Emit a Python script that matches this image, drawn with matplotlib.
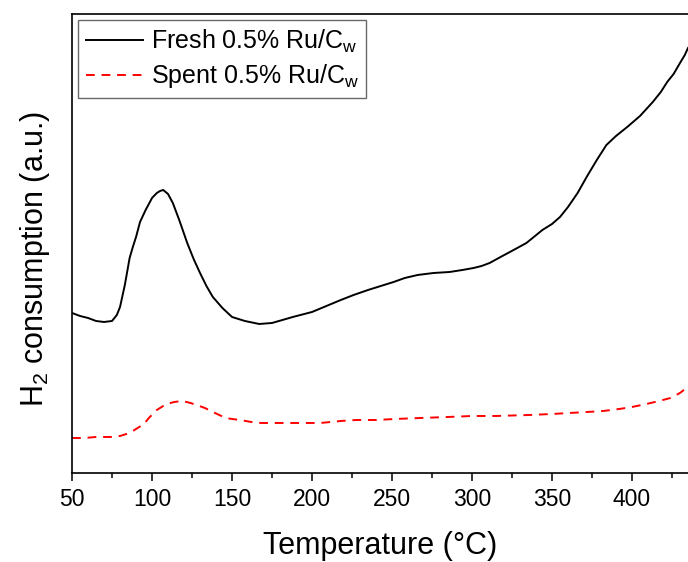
import matplotlib
matplotlib.use("Agg")
import matplotlib.pyplot as plt
from matplotlib.ticker import MultipleLocator

plt.rcParams['font.family'] = ['Liberation Sans', 'DejaVu Sans']
plt.rcParams['mathtext.fontset'] = 'custom'
plt.rcParams['mathtext.rm'] = 'Liberation Sans'
plt.rcParams['mathtext.it'] = 'Liberation Sans'
plt.rcParams['mathtext.default'] = 'regular'

# Fresh catalyst TPR trace (temperature, signal in a.u.)
fresh_t = [50, 55, 60, 65, 70, 75, 78, 80, 83, 86, 88, 90, 92.5, 96, 100, 103, 105, 107,
           110, 113, 117, 122, 126, 130, 134, 138, 144, 150, 158, 167, 175, 188, 200,
           209, 218, 226, 235, 243, 251, 258, 266, 276, 286, 294, 301, 306, 311, 319,
           326, 334, 344, 350, 355, 360, 366, 372, 378, 384, 390, 397, 405, 413, 418,
           422, 426, 430, 433, 435]
fresh_y = [160, 157, 155, 152, 151, 152, 158, 166, 188, 215, 226, 236, 251, 263, 275,
           280, 282, 283, 279, 270, 253, 230, 214, 200, 187, 176, 165, 156, 152, 149,
           150, 156, 161, 167, 173, 178, 183, 187, 191, 195, 198, 200, 201, 203, 205,
           207, 210, 217, 223, 230, 243, 249, 256, 266, 280, 297, 313, 328, 337, 346,
           357, 371, 381, 391, 399, 410, 418, 425]

# Spent catalyst TPR trace
spent_t = [50, 58, 65, 74, 80, 84, 88, 92, 95, 98, 103, 109, 114, 119, 124, 128, 133,
           138, 142, 146, 150, 155, 162, 168, 178, 188, 198, 205, 212, 218, 228, 240,
           252, 268, 285, 300, 315, 336, 350, 361, 372, 382, 392, 400, 409, 417, 424,
           430, 434, 435]
spent_y = [35, 35, 36, 36, 37, 39, 42, 46, 49, 55, 63, 69, 71, 72, 70, 68, 65, 61, 58,
           55, 54, 53, 51, 50, 50, 50, 50, 50, 51, 52, 53, 53, 54, 55, 56, 57, 57, 58,
           59, 60, 61, 62, 64, 66, 69, 72, 75, 80, 85, 86]

x_ticks = [50, 100, 150, 200, 250, 300, 350, 400]

fig = plt.figure(figsize=(6.88, 5.62), dpi=100)
ax = fig.add_axes([0.1047, 0.1584, 0.8953, 0.8167])

ax.plot(fresh_t, fresh_y, color='black', lw=1.4, label=r'Fresh 0.5% Ru/C$_w$')
ax.plot(spent_t, spent_y, color='red', lw=1.4, linestyle=(0, (4.5, 3.5)),
        label=r'Spent 0.5% Ru/C$_w$')

ax.set_xlim(50, 435)
ax.set_ylim(0, 459)
ax.set_xticks(x_ticks)
ax.xaxis.set_minor_locator(MultipleLocator(25))
ax.set_yticks([])
ax.tick_params(axis='x', which='major', direction='out', length=6, width=1.1,
               labelsize=16.5, pad=5)
ax.tick_params(axis='x', which='minor', direction='out', length=3.5, width=1.1)
for s in ['left', 'bottom', 'top']:
    ax.spines[s].set_linewidth(1.2)
ax.spines['right'].set_visible(False)

ax.set_xlabel('Temperature (°C)', fontsize=22, labelpad=14)
fig.text(0.051, 0.539, r'H$_2$ consumption (a.u.)', rotation=90, fontsize=22,
         ha='center', va='center')

leg = ax.legend(loc='upper left', fontsize=18, frameon=True, fancybox=False,
                edgecolor='#444444', handlelength=2.3, borderaxespad=0.25,
                labelspacing=0.3, handletextpad=0.3, borderpad=0.3)
leg.get_frame().set_linewidth(1.0)

fig.savefig('out.png', dpi=100)
